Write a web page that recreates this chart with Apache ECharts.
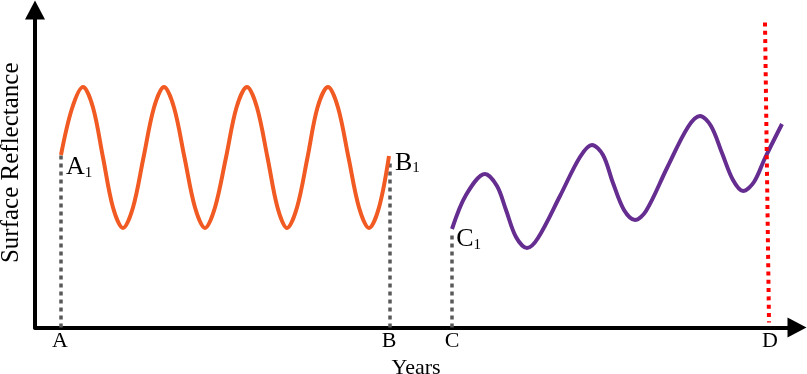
<!DOCTYPE html>
<html>
<head>
<meta charset="utf-8">
<script src="https://cdn.jsdelivr.net/npm/echarts@6/dist/echarts.min.js"></script>
<style>
html,body{margin:0;padding:0;background:#fff;}
#chart{width:807px;height:374px;}
</style>
</head>
<body>
<div id="chart"></div>
<script>
// ---- data (x: years, arbitrary units; y: surface reflectance, arbitrary units) ----
const orangeX = [26, 37, 48, 58, 68, 78, 88, 98, 108.5, 119, 129, 139, 149.5, 160, 170, 180, 191, 201.5, 212, 222, 232.5, 242.5, 252, 262, 272.5, 282.5, 293, 303, 313.5, 324, 334, 344, 354];
const orangeY = [172.5, 219, 240.5, 220, 170, 120, 99.5, 120, 170, 220, 240.5, 220, 170, 120, 99.5, 120, 170, 220, 240.5, 220, 170, 120, 99.5, 120, 170, 220, 240.5, 220, 170, 120, 99.5, 120, 171.5];

const purpleX = [417, 431, 450, 462, 471, 481, 492, 503, 525, 545, 557, 568, 578, 589, 600, 611, 632, 653, 665, 676, 687, 698, 708, 719, 730, 747];
const purpleY = [98.5, 132.5, 153.5, 141.5, 117.5, 90.5, 79.5, 89.5, 131.5, 170.5, 182.5, 172.5, 144.5, 117.5, 107.5, 116.5, 159.5, 200.5, 211.5, 201.5, 174.5, 147.5, 136.5, 145.5, 169.5, 203.5];

const guideX = [26, 355, 417];          // A, B, C drop lines
const guideTop = [172, 164, 95];
const guideNames = ['A', 'B', 'C'];     // labelled A1, B1, C1 at the top
const guideIndex = '1';
const markerX = [730, 734];             // D line (top, bottom)
const markerY = [305, 5];

const tickValues = [25, 354, 417, 735];
const tickLabels = ['A', 'B', 'C', 'D'];

const xName = 'Years';
const yName = 'Surface Reflectance';
// -------------------------------------------------------------------------------

const FONT = '"Liberation Serif", "Times New Roman", serif';
const zip = (a, b) => a.map((v, i) => [v, b[i]]);
const labelOffsets = [[5, 12], [5, -0.5], [4.2, 6.7]];

const series = [];
guideX.forEach((x, i) => {
  series.push({
    type: 'line', data: [[x, 0], [x, guideTop[i]]], symbol: 'none', silent: true,
    lineStyle: { color: '#58595B', width: 3.5, type: [4, 4] }, z: 1,
    endLabel: {
      show: true, distance: 0, offset: labelOffsets[i],
      formatter: () => '{m|' + guideNames[i] + '}{s|' + guideIndex + '}',
      color: '#000', fontFamily: FONT, fontSize: 26,
      rich: {
        m: { fontSize: 26, lineHeight: 26, fontFamily: FONT, color: '#000', verticalAlign: 'bottom' },
        s: { fontSize: 15, lineHeight: 18, fontFamily: FONT, color: '#000', verticalAlign: 'bottom' }
      }
    }
  });
});
series.push({
  type: 'line', data: zip(markerX, markerY), symbol: 'none', silent: true,
  lineStyle: { color: '#FF0000', width: 4, type: [4, 4.3] }, z: 4
});
series.push({
  type: 'line', data: zip(orangeX, orangeY), symbol: 'none', smooth: 0.33,
  lineStyle: { color: '#F15A22', width: 4 }, z: 3
});
series.push({
  type: 'line', data: zip(purpleX, purpleY), symbol: 'none', smooth: 0.33,
  lineStyle: { color: '#662D91', width: 4 }, z: 3
});

const option = {
  animation: false,
  backgroundColor: '#fff',
  grid: { left: 35, right: 10, top: 10, bottom: 46.5, outerBoundsMode: 'none', containLabel: false },
  xAxis: {
    type: 'value', min: 0, max: 762,
    name: xName, nameLocation: 'middle', nameGap: 25,
    nameTextStyle: { fontSize: 22, fontFamily: FONT, color: '#000' },
    axisLine: { show: true, symbol: ['none', 'triangle'], symbolSize: [20, 19],
      lineStyle: { color: '#000', width: 4 } },
    axisTick: { show: false },
    splitLine: { show: false },
    axisLabel: {
      show: true, customValues: tickValues, margin: 3,
      formatter: v => tickLabels[tickValues.indexOf(v)] || '',
      fontSize: 22, fontFamily: FONT, color: '#000'
    }
  },
  yAxis: {
    type: 'value', min: 0, max: 317.5,
    name: yName, nameLocation: 'middle', nameGap: 11, nameRotate: 90,
    nameTextStyle: { fontSize: 25, fontFamily: FONT, color: '#000', padding: [0, 0, 0, 12] },
    axisLine: { show: true, symbol: ['none', 'triangle'], symbolSize: [20, 19],
      lineStyle: { color: '#000', width: 4 } },
    axisTick: { show: false },
    splitLine: { show: false },
    axisLabel: { show: false }
  },
  series: series
};

const chart = echarts.init(document.getElementById('chart'), null, { renderer: 'canvas' });
chart.setOption(option);
</script>
</body>
</html>
